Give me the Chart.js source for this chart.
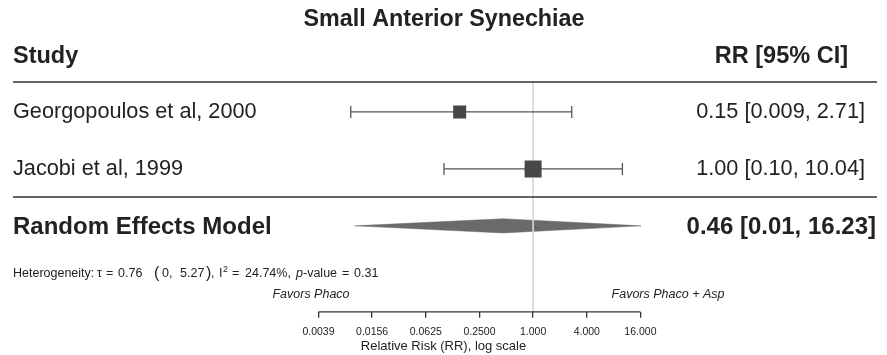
<!DOCTYPE html>
<html>
<head>
<meta charset="utf-8">
<script src="https://cdn.jsdelivr.net/npm/chart.js@4"></script>
<style>
  body { margin: 0; background: #fff; }
  #forest { display: block; }
</style>
</head>
<body>
<canvas id="forest" width="887" height="355"></canvas>
<script>
// study rows
const studies = ['Georgopoulos et al, 2000', 'Jacobi et al, 1999']
const rr = [0.15, 1.00]
const rrLower = [0.009, 0.10]
const rrUpper = [2.71, 10.04]
const rrText = ['0.15 [0.009, 2.71]', '1.00 [0.10, 10.04]']

// pooled estimate
const summaryLabel = 'Random Effects Model'
const summaryRR = 0.46
const summaryLower = 0.01
const summaryUpper = 16.23
const summaryText = '0.46 [0.01, 16.23]'

// x axis
const tickValues = [0.00390625, 0.015625, 0.0625, 0.25, 1, 4, 16]
const tickLabels = ['0.0039', '0.0156', '0.0625', '0.2500', '1.000', '4.000', '16.000']

const FONT = '"Liberation Sans", Arial, Helvetica, sans-serif'
const INK = '#222'
const squareSide = [13, 17]
const diamondHalf = 0.125

const studyRow = i => i + 1
const summaryRow = studies.length + 1

const whiskerSets = studies.map((s, i) => ({
  type: 'line',
  data: [{x: rrLower[i], y: studyRow(i)}, {x: rrUpper[i], y: studyRow(i)}],
  borderColor: '#555',
  borderWidth: 1.3,
  pointStyle: 'line',
  pointRotation: 90,
  pointRadius: 6,
  pointBorderColor: '#555',
  pointBorderWidth: 1.3,
  order: 1
}))

const squareSet = {
  type: 'scatter',
  data: rr.map((v, i) => ({x: v, y: studyRow(i)})),
  pointStyle: 'rect',
  pointRadius: ctx => squareSide[ctx.dataIndex] / Math.SQRT2,
  backgroundColor: '#474747',
  borderColor: '#474747',
  borderWidth: 0,
  order: 0
}

const diamondSet = {
  type: 'line',
  data: [
    {x: summaryLower, y: summaryRow},
    {x: summaryRR, y: summaryRow - diamondHalf},
    {x: summaryUpper, y: summaryRow},
    {x: summaryRR, y: summaryRow + diamondHalf},
    {x: summaryLower, y: summaryRow}
  ],
  borderColor: '#6a6a6a',
  borderWidth: 0.5,
  backgroundColor: '#6a6a6a',
  fill: 'shape',
  pointRadius: 0,
  tension: 0,
  order: 3
}

const yMin = -0.965
const yMax = 4.509

const refLineSet = {
  type: 'line',
  data: [{x: 1, y: 0.47}, {x: 1, y: yMax}],
  borderColor: '#d6d6d6',
  borderWidth: 1.6,
  pointRadius: 0,
  order: 2
}

// plotmath-like heterogeneity line, pieces placed at their x
const REG = `12.5px ${FONT}`
const BIG = `16px ${FONT}`
const heteroRuns = [
  {text: 'Heterogeneity:', x: 13, font: REG},
  {text: 'τ', x: 97, font: REG},
  {text: '=', x: 106, font: REG},
  {text: '0.76', x: 118, font: REG},
  {text: '(', x: 154, font: BIG, dy: 1},
  {text: '0,', x: 162, font: REG},
  {text: '5.27', x: 180, font: REG},
  {text: ')', x: 206, font: BIG, dy: 1},
  {text: ',', x: 211, font: REG},
  {text: 'I', x: 219, font: REG},
  {text: '2', x: 223, font: `9px ${FONT}`, dy: -5},
  {text: '=', x: 232, font: REG},
  {text: '24.74%,', x: 245, font: REG},
  {text: 'p', x: 296, font: `italic ${REG}`},
  {text: '-value', x: 303, font: REG},
  {text: '=', x: 342, font: REG},
  {text: '0.31', x: 354, font: REG}
]

const forestText = {
  id: 'forestText',
  afterDraw(chart) {
    const {ctx, scales: {x, y}} = chart
    ctx.save()
    ctx.fillStyle = INK

    // title and header
    ctx.textBaseline = 'middle'
    ctx.textAlign = 'center'
    ctx.font = `bold 23.3px ${FONT}`
    ctx.fillText('Small Anterior Synechiae', 444, 20)

    ctx.font = `bold 23.5px ${FONT}`
    ctx.textAlign = 'left'
    ctx.fillText('Study', 13, 57)
    ctx.textAlign = 'right'
    ctx.fillText('RR [95% CI]', 848, 57)

    // rules
    ctx.strokeStyle = '#333'
    ctx.lineWidth = 1.5
    ;[82, 197].forEach(py => {
      ctx.beginPath()
      ctx.moveTo(13, py)
      ctx.lineTo(877, py)
      ctx.stroke()
    })

    // study rows
    ctx.font = `21.7px ${FONT}`
    studies.forEach((s, i) => {
      const py = y.getPixelForValue(studyRow(i))
      ctx.textAlign = 'left'
      ctx.fillText(s, 13, py)
      ctx.textAlign = 'right'
      ctx.fillText(rrText[i], 865, py)
    })

    // summary row
    const sy = y.getPixelForValue(summaryRow) + 2
    ctx.font = `bold 24px ${FONT}`
    ctx.textAlign = 'left'
    ctx.fillText(summaryLabel, 13, sy)
    ctx.textAlign = 'right'
    ctx.fillText(summaryText, 876, sy)

    // heterogeneity
    ctx.textAlign = 'left'
    ctx.textBaseline = 'alphabetic'
    heteroRuns.forEach(r => {
      ctx.font = r.font
      ctx.fillText(r.text, r.x, 277 + (r.dy || 0))
    })

    // favors labels
    ctx.textBaseline = 'middle'
    ctx.textAlign = 'center'
    ctx.font = `italic 12.5px ${FONT}`
    ctx.fillText('Favors Phaco', 311, 295)
    ctx.fillText('Favors Phaco + Asp', 668, 295)

    // axis line between first and last tick
    const ay = chart.chartArea.bottom
    ctx.strokeStyle = '#333'
    ctx.lineWidth = 1.3
    ctx.beginPath()
    ctx.moveTo(x.getPixelForValue(tickValues[0]), ay)
    ctx.lineTo(x.getPixelForValue(tickValues[tickValues.length - 1]), ay)
    ctx.stroke()
    ctx.restore()
  }
}

Chart.defaults.font.family = FONT
Chart.defaults.color = INK

new Chart(document.querySelector('#forest'), {
  type: 'scatter',
  data: {
    datasets: [squareSet, ...whiskerSets, refLineSet, diamondSet]
  },
  options: {
    responsive: false,
    animation: false,
    devicePixelRatio: 1,
    layout: { padding: 0, autoPadding: false },
    plugins: {
      legend: { display: false },
      tooltip: { enabled: false }
    },
    scales: {
      x: {
        type: 'logarithmic',
        position: 'bottom',
        bounds: 'data',
        min: 2 ** -19.87,
        max: 2 ** 13.19,
        border: { display: false },
        grid: { drawOnChartArea: false, drawTicks: true, tickLength: 6, color: '#333', lineWidth: 1.3 },
        afterBuildTicks: axis => { axis.ticks = tickValues.map(v => ({ value: v })) },
        ticks: {
          autoSkip: false,
          maxRotation: 0,
          padding: 8,
          color: INK,
          font: { size: 10.5 },
          callback: (v, i) => tickLabels[i]
        },
        title: {
          display: true,
          text: 'Relative Risk (RR), log scale',
          color: INK,
          font: { size: 13 },
          padding: { top: -8, bottom: 1 }
        }
      },
      y: {
        type: 'linear',
        display: false,
        reverse: true,
        min: yMin,
        max: yMax
      }
    }
  },
  plugins: [forestText]
})
</script>
</body>
</html>
